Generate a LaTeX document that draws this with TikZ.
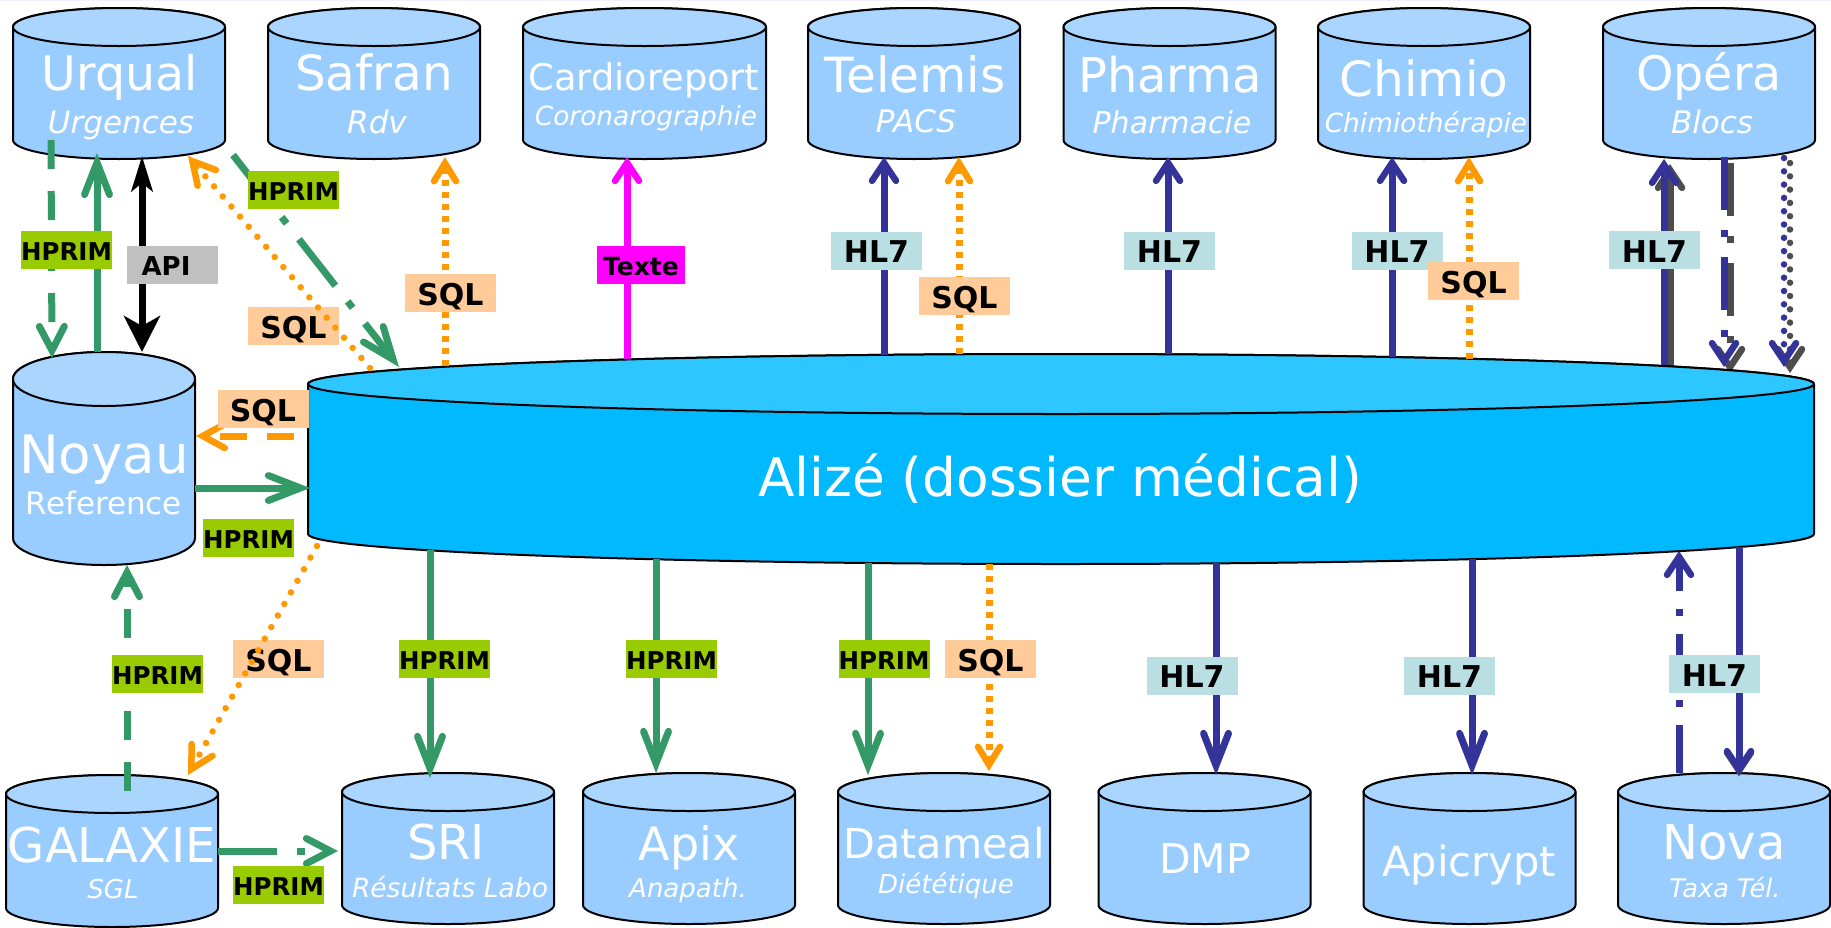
\documentclass[tikz,border=0pt]{standalone}
\usepackage{fontspec}
\setmainfont{DejaVu Sans}
\usetikzlibrary{arrows.meta,calc,backgrounds}
\definecolor{cbody}{HTML}{99CCFF}
\definecolor{cend}{HTML}{AAD5FF}
\definecolor{abody}{HTML}{00B9FF}
\definecolor{aend}{HTML}{2EC6FF}
\definecolor{cgreen}{HTML}{339966}
\definecolor{corange}{HTML}{FF9900}
\definecolor{cblue}{HTML}{333399}
\definecolor{cshadow}{HTML}{4D4D4D}
\definecolor{lhprim}{HTML}{99CC00}
\definecolor{lsql}{HTML}{FFCC99}
\definecolor{lhl}{HTML}{B9DFE3}
\definecolor{lapi}{HTML}{C0C0C0}
\definecolor{ltexte}{HTML}{FF00FF}
\newcommand{\fsz}[1]{\fontsize{#1}{#1}\selectfont}
\newcommand{\dbcyl}[8]{%
  \node[dbnode,minimum width=#4pt,minimum height=#5pt] (#1) at (#2,#3) {};
  \path[dbrim,fill=#7] ($(#1.north west)+(0,#6)$) -- ($(#1.south west)+(0,-#6)$)
    arc[start angle=180,end angle=360,x radius={(#4)*0.5pt},y radius=#6pt]
    -- ($(#1.north east)+(0,#6)$)
    arc[start angle=0,end angle=180,x radius={(#4)*0.5pt},y radius=#6pt] -- cycle;
  \path[dbrim,fill=#8] ($(#1.north)+(0,#6)$) ellipse [x radius={(#4)*0.5pt},y radius=#6pt];
}
\tikzset{
  vbig/.tip={Straight Barb[length=32pt,width=25pt,line width=7pt,line cap=round,line join=miter]},
  vmid/.tip={Straight Barb[length=24pt,width=25pt,line width=7pt,line cap=round,line join=miter]},
  vsm/.tip={Straight Barb[length=18pt,width=24pt,line width=6.5pt,line cap=round,line join=miter]},
  voa/.tip={Straight Barb[length=18pt,width=22pt,line width=6.5pt,line cap=round,line join=miter]},
  vob/.tip={Straight Barb[length=22pt,width=24pt,line width=6.5pt,line cap=round,line join=miter]},
  dbnode/.style={inner sep=0pt,outer sep=0pt},
  dbrim/.style={draw=black,line width=2pt,line join=round},
  ttl/.style={anchor=base,text=white,inner sep=0pt},
  tag/.style={minimum width=91pt,minimum height=38pt,inner sep=0pt,text=black,text depth=0pt},
  thprim/.style={tag,fill=lhprim,text height=20pt,font=\fsz{24.5}\bfseries},
  tsql/.style={tag,fill=lsql,text height=24pt,font=\fsz{30}\bfseries},
  thl/.style={tag,fill=lhl,text height=24pt,font=\fsz{30}\bfseries},
  tapi/.style={tag,fill=lapi,text height=20pt,font=\fsz{26}\bfseries},
  ttexte/.style={tag,fill=ltexte,minimum width=88pt,text height=20pt,font=\fsz{25}\bfseries},
  wire/.style={line width=7pt},
  gsolid/.style={wire,cgreen,-vbig},
  bsolid/.style={wire,cblue,-vsm},
  bbig/.style={wire,cblue,-vbig},
  gdash/.style={wire,cgreen,-vmid,dash pattern=on 29pt off 22pt},
  gdot/.style={wire,cgreen,-vmid,dash pattern=on 59pt off 20pt on 8pt off 20pt},
  bdot/.style={wire,cblue,-vsm,dash pattern=on 53pt off 20pt on 7pt off 20pt},
  bup/.style={wire,cblue,-vsm,dash pattern=on 48pt off 18pt on 7pt off 18pt},
  osq/.style={wire,corange,-voa,dash pattern=on 6pt off 6pt},
  orn/.style={wire,line width=6.5pt,corange,-vob,line cap=round,dash pattern=on 0pt off 13.3pt},
  brn/.style={wire,line width=6.5pt,cblue,-vsm,line cap=round,dash pattern=on 0pt off 13.3pt},
  sbar/.style={wire,cshadow,-vsm},
}
\begin{document}
\begin{tikzpicture}[x=1pt,y=-1pt]
\useasboundingbox (0,0) rectangle (1831,927);
% cylinders
\dbcyl{urqual}{119}{83.5}{212}{151}{19}{cbody}{cend}
\dbcyl{safran}{374}{83.5}{212}{151}{19}{cbody}{cend}
\dbcyl{cardio}{644.5}{83.5}{243}{151}{19}{cbody}{cend}
\dbcyl{telemis}{914}{83.5}{212}{151}{19}{cbody}{cend}
\dbcyl{pharma}{1169.5}{83.5}{212}{151}{19}{cbody}{cend}
\dbcyl{chimio}{1424}{83.5}{212}{151}{19}{cbody}{cend}
\dbcyl{opera}{1709}{83.5}{212}{151}{19}{cbody}{cend}
\dbcyl{noyau}{104}{458.5}{182}{213}{27}{cbody}{cend}
\dbcyl{alize}{1061}{459}{1506}{210}{30}{abody}{aend}
\dbcyl{galaxie}{112}{851}{212}{152}{19}{cbody}{cend}
\dbcyl{sri}{448}{848.5}{212}{151}{19}{cbody}{cend}
\dbcyl{apix}{689}{848.5}{212}{151}{19}{cbody}{cend}
\dbcyl{datameal}{944}{848.5}{212}{151}{19}{cbody}{cend}
\dbcyl{dmp}{1204.5}{848.5}{212}{151}{19}{cbody}{cend}
\dbcyl{apicrypt}{1469.5}{848.5}{212}{151}{19}{cbody}{cend}
\dbcyl{nova}{1724}{848.5}{212}{151}{19}{cbody}{cend}
% drop shadows of the Opera links, behind the cylinders
\begin{scope}[on background layer]
\fill[white] (0,0) rectangle (1831,927);
\fill[blue!6] (0,0) rectangle (1831,1.2);
\draw[sbar] ($(alize.north)+(609,15)$) -- ($(opera.south)+(-39,5)$);
\draw[sbar,dash pattern=on 53pt off 20pt on 7pt off 20pt] ($(opera.south)+(21,4)$) -- ($(alize.north)+(669,19)$);
\draw[sbar,line width=6.5pt,line cap=round,dash pattern=on 0pt off 13.3pt] ($(opera.south)+(81,4)$) -- ($(alize.north)+(729,19)$);
\end{scope}
% cylinder texts
\node[ttl,font=\fsz{47.5}] (urqualt) at (120,90) {Urqual};
\node[ttl,font=\fsz{31}\itshape] (urquals) at (121,133) {Urgences};
\node[ttl,font=\fsz{48.5}] (safrant) at (374,90) {Safran};
\node[ttl,font=\fsz{31}\itshape] (safrans) at (377,133) {Rdv};
\node[ttl,font=\fsz{36.7}] (cardiot) at (644,90) {Cardioreport};
\node[ttl,font=\fsz{26.4}\itshape] (cardios) at (646,125) {Coronarographie};
\node[ttl,font=\fsz{48.5}] (telemist) at (915,92) {Telemis};
\node[ttl,font=\fsz{31}\itshape] (telemiss) at (916,132) {PACS};
\node[ttl,font=\fsz{48}] (pharmat) at (1170,92) {Pharma};
\node[ttl,font=\fsz{30}\itshape] (pharmas) at (1172,133) {Pharmacie};
\node[ttl,font=\fsz{48.5}] (chimiot) at (1424,96) {Chimio};
\node[ttl,font=\fsz{26.4}\itshape] (chimios) at (1426,132) {Chimiothérapie};
\node[ttl,font=\fsz{47.5}] (operat) at (1709,90) {Opéra};
\node[ttl,font=\fsz{31}\itshape] (operas) at (1712,133) {Blocs};
\node[ttl,font=\fsz{53}] (noyaut) at (104,473) {Noyau};
\node[ttl,font=\fsz{31}] (noyaus) at (104,514) {Reference};
\node[ttl,font=\fsz{53.3}] (alizet) at (1060,496) {Alizé (dossier médical)};
\node[ttl,font=\fsz{48}] (galaxiet) at (112,862) {GALAXIE};
\node[ttl,font=\fsz{26}\itshape] (galaxies) at (113,898) {SGL};
\node[ttl,font=\fsz{48}] (srit) at (446,859) {SRI};
\node[ttl,font=\fsz{26.5}\itshape] (sris) at (450,897) {Résultats Labo};
\node[ttl,font=\fsz{46}] (apixt) at (689,860) {Apix};
\node[ttl,font=\fsz{26}\itshape] (apixs) at (688,897) {Anapath.};
\node[ttl,font=\fsz{41.3}] (datamealt) at (944,858) {Datameal};
\node[ttl,font=\fsz{26}\itshape] (datameals) at (946,893) {Diététique};
\node[ttl,font=\fsz{41}] (dmpt) at (1205,873) {DMP};
\node[ttl,font=\fsz{41.6}] (apicryptt) at (1469,876) {Apicrypt};
\node[ttl,font=\fsz{48}] (novat) at (1724,859) {Nova};
\node[ttl,font=\fsz{25.6}\itshape] (novas) at (1725,897) {Taxa Tél.};
% labels crossed by their dotted lines
\node[tsql] (s1) at (293.5,326) {SQL};
\node[tsql] (s2) at (278.5,659) {SQL};
% links
\draw[gdash] ($(urqual.south)+(-68,-19)$) -- ($(noyau.north)+(-52,6)$);
\draw[gsolid] ($(noyau.north)+(-7,0)$) -- ($(urqual.south)+(-22,-6)$);
\draw[wire,black,{Stealth[length=35pt,width=21pt,inset=8pt]}-{Stealth[length=36pt,width=36pt,inset=10pt]}] ($(urqual.south)+(23,-3)$) -- ($(noyau.north)+(38,0)$);
\draw[gdot,-vbig] ($(urqual.south)+(114,-4)$) -- ($(alize.north)+(-662,13)$);
\draw[orn] ($(alize.north)+(-691,14)$) -- ($(urqual.south)+(69,-3)$);
\draw[osq] ($(alize.north)+(-616,12)$) -- ($(safran.south)+(71,-2)$);
\draw[wire,ltexte,-vsm] ($(alize.north)+(-434,5)$) -- ($(cardio.south)+(-17.5,-2)$);
\draw[bsolid] ($(alize.north)+(-177,1)$) -- ($(telemis.south)+(-30,-2)$);
\draw[osq] ($(alize.north)+(-102,0)$) -- ($(telemis.south)+(45,-2)$);
\draw[bsolid] ($(alize.north)+(107,0)$) -- ($(pharma.south)+(-1.5,-2)$);
\draw[bsolid] ($(alize.north)+(331,3)$) -- ($(chimio.south)+(-32,-2)$);
\draw[osq] ($(alize.north)+(408,5)$) -- ($(chimio.south)+(45,-2)$);
\draw[bsolid] ($(alize.north)+(603,11)$) -- ($(opera.south)+(-45,0)$);
\draw[bdot] ($(opera.south)+(15,-2)$) -- ($(alize.north)+(663,13)$);
\draw[brn] ($(opera.south)+(75,-1)$) -- ($(alize.north)+(723,13)$);
\draw[wire,corange,-vob,dash pattern=on 27pt off 20pt,dash phase=33pt] ($(alize.west)+(0,-23)$) -- ($(noyau.east)+(1,-22.5)$);
\draw[gsolid] ($(noyau.east)+(0,29.5)$) -- ($(alize.west)+(2,29)$);
\draw[orn] ($(alize.south)+(-744,-18)$) -- ($(galaxie.north)+(76,0)$);
\draw[gdash] ($(galaxie.north)+(15,16)$) -- ($(noyau.south)+(23,0)$);
\draw[gdot] (galaxie.east) -- ($(sri.west)+(-4,2.5)$);
\draw[gsolid] ($(alize.south)+(-631,-14)$) -- ($(sri.north)+(-18,5)$);
\draw[gsolid] ($(alize.south)+(-405,-5)$) -- ($(apix.north)+(-33,0)$);
\draw[gsolid] ($(alize.south)+(-193,-1)$) -- ($(datameal.north)+(-76,2)$);
\draw[osq] ($(alize.south)+(-72,0)$) -- ($(datameal.north)+(45,-2)$);
\draw[bbig] ($(alize.south)+(155,-1)$) -- ($(dmp.north)+(11.5,2)$);
\draw[bbig] ($(alize.south)+(411,-5)$) -- ($(apicrypt.north)+(2.5,2)$);
\draw[bup] ($(nova.north)+(-45,0)$) -- ($(alize.south)+(618,-13)$);
\draw[sbar] ($(nova.north)+(15,-40)$) -- ($(nova.north)+(15,3.5)$);
\draw[bsolid] ($(alize.south)+(678,-17)$) -- ($(nova.north)+(15,2)$);
% labels
\node[thprim] (h1) at (66.5,250) {HPRIM};
\node[tapi] (a1) at (172.5,265) {\hbox{API\kern13pt}};
\node[thprim] (h2) at (293.5,190) {HPRIM};
\node[tsql] (s3) at (450.5,293) {SQL};
\node[tsql] (s4) at (263,409) {SQL};
\node[thprim] (h3) at (248.5,538) {HPRIM};
\node[thprim] (h4) at (157.5,674) {HPRIM};
\node[thprim] (h5) at (444.5,659) {HPRIM};
\node[thprim] (h6) at (278.5,885) {HPRIM};
\node[ttexte] (t1) at (641,265) {Texte};
\node[thl] (l1) at (876.5,250.5) {HL7};
\node[tsql] (s5) at (964.5,296) {SQL};
\node[thl] (l2) at (1169.5,250.5) {HL7};
\node[thl] (l3) at (1397,250.5) {HL7};
\node[tsql] (s6) at (1473.5,281) {SQL};
\node[thl] (l4) at (1654.5,250) {HL7};
\node[thprim] (h7) at (671.5,659) {HPRIM};
\node[thprim] (h8) at (884,659) {HPRIM};
\node[tsql] (s7) at (990.5,659) {SQL};
\node[thl] (l5) at (1192,675.5) {HL7};
\node[thl] (l6) at (1449.5,675.5) {HL7};
\node[thl] (l7) at (1714.5,674) {HL7};
\end{tikzpicture}
\end{document}
